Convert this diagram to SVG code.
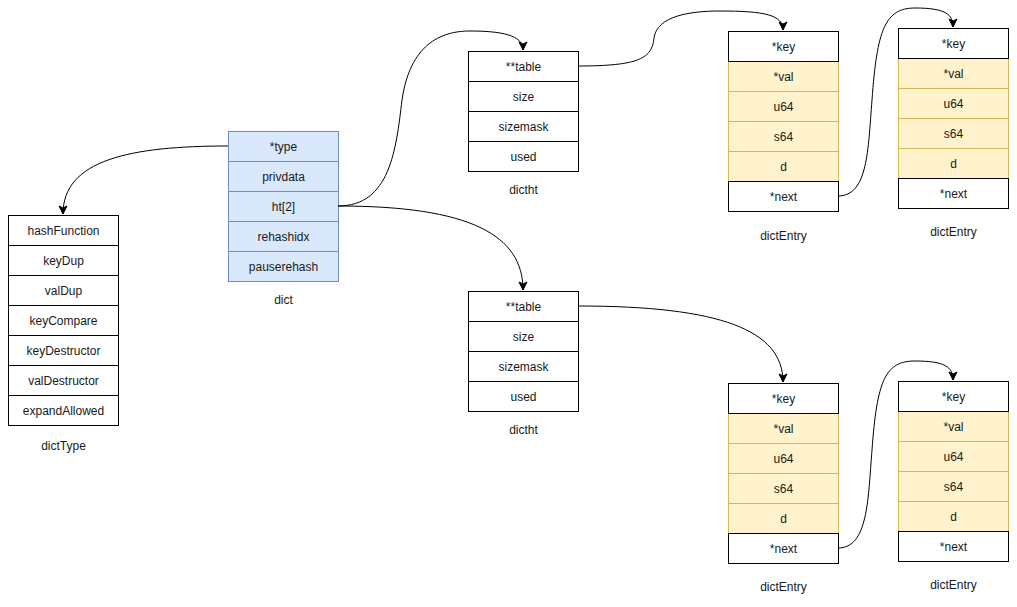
<svg xmlns="http://www.w3.org/2000/svg" width="1017" height="607" viewBox="0 0 1017 607">
<style>
text{font-family:"Liberation Sans",Arial,sans-serif;font-size:12px;fill:#1a1a1a;text-anchor:middle}
.w{fill:#ffffff;stroke:#000000;stroke-width:1}
.b{fill:#dae8fc;stroke:#6c8ebf;stroke-width:1}
.y{fill:#fff2cc;stroke:#d6b656;stroke-width:1}
.e{fill:none;stroke:#000000;stroke-width:1}
</style>
<defs>
<marker id="arr" markerUnits="userSpaceOnUse" markerWidth="10" markerHeight="10" refX="9" refY="5" orient="auto">
<path d="M1,1 L9,5 L1,9 L3,5 Z" fill="#000000" stroke="#000000" stroke-width="1"/>
</marker>
</defs>
<rect x="0" y="0" width="1017" height="607" fill="#ffffff"/>

<g id="dictType">
<rect class="w" x="8.5" y="215.5" width="110" height="30"/><text x="63.5" y="234.5">hashFunction</text>
<rect class="w" x="8.5" y="245.5" width="110" height="30"/><text x="63.5" y="264.5">keyDup</text>
<rect class="w" x="8.5" y="275.5" width="110" height="30"/><text x="63.5" y="294.5">valDup</text>
<rect class="w" x="8.5" y="305.5" width="110" height="30"/><text x="63.5" y="324.5">keyCompare</text>
<rect class="w" x="8.5" y="335.5" width="110" height="30"/><text x="63.5" y="354.5">keyDestructor</text>
<rect class="w" x="8.5" y="365.5" width="110" height="30"/><text x="63.5" y="384.5">valDestructor</text>
<rect class="w" x="8.5" y="395.5" width="110" height="30"/><text x="63.5" y="414.5">expandAllowed</text>
<text x="63.5" y="450">dictType</text>
</g>

<g id="dict">
<rect class="b" x="228.5" y="131.5" width="110" height="30"/><text x="283.5" y="150.5">*type</text>
<rect class="b" x="228.5" y="161.5" width="110" height="30"/><text x="283.5" y="180.5">privdata</text>
<rect class="b" x="228.5" y="191.5" width="110" height="30"/><text x="283.5" y="210.5">ht[2]</text>
<rect class="b" x="228.5" y="221.5" width="110" height="30"/><text x="283.5" y="240.5">rehashidx</text>
<rect class="b" x="228.5" y="251.5" width="110" height="30"/><text x="283.5" y="270.5">pauserehash</text>
<text x="283.5" y="304">dict</text>
</g>

<g id="dictht1">
<rect class="w" x="468.5" y="51.5" width="110" height="30"/><text x="523.5" y="70.5">**table</text>
<rect class="w" x="468.5" y="81.5" width="110" height="30"/><text x="523.5" y="100.5">size</text>
<rect class="w" x="468.5" y="111.5" width="110" height="30"/><text x="523.5" y="130.5">sizemask</text>
<rect class="w" x="468.5" y="141.5" width="110" height="30"/><text x="523.5" y="160.5">used</text>
<text x="523.5" y="194">dictht</text>
</g>

<g id="dictht2">
<rect class="w" x="468.5" y="291.5" width="110" height="30"/><text x="523.5" y="310.5">**table</text>
<rect class="w" x="468.5" y="321.5" width="110" height="30"/><text x="523.5" y="340.5">size</text>
<rect class="w" x="468.5" y="351.5" width="110" height="30"/><text x="523.5" y="370.5">sizemask</text>
<rect class="w" x="468.5" y="381.5" width="110" height="30"/><text x="523.5" y="400.5">used</text>
<text x="523.5" y="434">dictht</text>
</g>

<g id="dictEntry1">
<rect class="y" x="728.5" y="61.5" width="110" height="30"/><text x="783.5" y="80.5">*val</text>
<rect class="y" x="728.5" y="91.5" width="110" height="30"/><text x="783.5" y="110.5">u64</text>
<rect class="y" x="728.5" y="121.5" width="110" height="30"/><text x="783.5" y="140.5">s64</text>
<rect class="y" x="728.5" y="151.5" width="110" height="30"/><text x="783.5" y="170.5">d</text>
<rect class="w" x="728.5" y="31.5" width="110" height="30"/><text x="783.5" y="50.5">*key</text>
<rect class="w" x="728.5" y="181.5" width="110" height="30"/><text x="783.5" y="200.5">*next</text>
<text x="783.5" y="240">dictEntry</text>
</g>

<g id="dictEntry2">
<rect class="y" x="898.5" y="58.5" width="110" height="30"/><text x="953.5" y="77.5">*val</text>
<rect class="y" x="898.5" y="88.5" width="110" height="30"/><text x="953.5" y="107.5">u64</text>
<rect class="y" x="898.5" y="118.5" width="110" height="30"/><text x="953.5" y="137.5">s64</text>
<rect class="y" x="898.5" y="148.5" width="110" height="30"/><text x="953.5" y="167.5">d</text>
<rect class="w" x="898.5" y="28.5" width="110" height="30"/><text x="953.5" y="47.5">*key</text>
<rect class="w" x="898.5" y="178.5" width="110" height="30"/><text x="953.5" y="197.5">*next</text>
<text x="953.5" y="236">dictEntry</text>
</g>

<g id="dictEntry3">
<rect class="y" x="728.5" y="413.5" width="110" height="30"/><text x="783.5" y="432.5">*val</text>
<rect class="y" x="728.5" y="443.5" width="110" height="30"/><text x="783.5" y="462.5">u64</text>
<rect class="y" x="728.5" y="473.5" width="110" height="30"/><text x="783.5" y="492.5">s64</text>
<rect class="y" x="728.5" y="503.5" width="110" height="30"/><text x="783.5" y="522.5">d</text>
<rect class="w" x="728.5" y="383.5" width="110" height="30"/><text x="783.5" y="402.5">*key</text>
<rect class="w" x="728.5" y="533.5" width="110" height="30"/><text x="783.5" y="552.5">*next</text>
<text x="783.5" y="591">dictEntry</text>
</g>

<g id="dictEntry4">
<rect class="y" x="898.5" y="411.5" width="110" height="30"/><text x="953.5" y="430.5">*val</text>
<rect class="y" x="898.5" y="441.5" width="110" height="30"/><text x="953.5" y="460.5">u64</text>
<rect class="y" x="898.5" y="471.5" width="110" height="30"/><text x="953.5" y="490.5">s64</text>
<rect class="y" x="898.5" y="501.5" width="110" height="30"/><text x="953.5" y="520.5">d</text>
<rect class="w" x="898.5" y="381.5" width="110" height="30"/><text x="953.5" y="400.5">*key</text>
<rect class="w" x="898.5" y="531.5" width="110" height="30"/><text x="953.5" y="550.5">*next</text>
<text x="953.5" y="589">dictEntry</text>
</g>

<g id="connectors">
<path class="e" marker-end="url(#arr)" d="M228,146 C130,146 63,160 63,214"/>
<path class="e" marker-end="url(#arr)" d="M338,206 C390,206 396,150 402,100 C410,45 440,31 470,31 C510,31 523,38 523,50"/>
<path class="e" marker-end="url(#arr)" d="M338,206 C470,206 523,235 523,290"/>
<path class="e" marker-end="url(#arr)" d="M578,66 C640,66 652,58 654,38 C657,16 690,11 720,11 C765,11 783,15 783,30"/>
<path class="e" marker-end="url(#arr)" d="M838,196 C868,196 868,150 872,100 C877,30 885,8 915,8 C945,8 953,14 953,27"/>
<path class="e" marker-end="url(#arr)" d="M578,306 C720,306 783,330 783,382"/>
<path class="e" marker-end="url(#arr)" d="M838,548 C868,548 868,500 872,450 C877,381 885,361 915,361 C945,361 953,367 953,380"/>
</g>
</svg>
